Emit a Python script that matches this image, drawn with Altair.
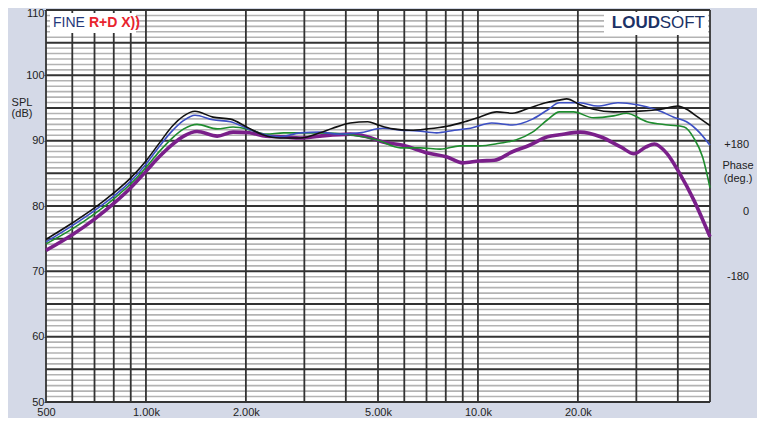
import altair as alt
import pandas as pd

# ---------------- data ----------------
black_f = [500, 600, 700, 800, 900, 1000, 1100, 1200, 1300, 1405, 1592, 1797, 2010, 2250, 2530, 2915, 3340, 3650,
           4125, 4660, 5000, 5550, 6265, 7045, 8070, 9000, 10100, 11400, 12700, 14300, 16000, 17600, 18500,
           20300, 22300, 25600, 30200, 35600, 40000, 42500, 46000, 50000]
black_db = [74.9, 77.4, 79.7, 82.0, 84.3, 86.9, 89.7, 92.2, 93.8, 94.5, 93.6, 93.3, 92.1, 90.9, 90.4, 90.4, 91.2, 91.9,
            92.7, 92.9, 92.4, 91.8, 91.6, 91.8, 92.2, 92.8, 93.6, 94.4, 94.2, 95.0, 95.8, 96.2, 96.4,
            95.5, 94.8, 94.4, 94.5, 94.8, 95.3, 94.8, 93.6, 92.3]

blue_f = [500, 600, 700, 800, 900, 1000, 1100, 1200, 1300, 1405, 1592, 1797, 2010, 2250, 2530, 2915, 3340, 3800,
          4400, 5170, 5850, 6560, 7510, 8500, 9500, 11000, 12700, 14600, 16200, 17600, 20300, 22900, 26400,
          30200, 34700, 38900, 42500, 46600, 50000]
blue_db = [74.5, 77.0, 79.3, 81.5, 83.8, 86.4, 89.2, 91.5, 93.1, 93.9, 93.2, 92.9, 91.9, 91.0, 90.6, 91.2, 91.3, 91.0,
           91.2, 91.9, 91.6, 91.5, 91.2, 91.6, 91.9, 92.7, 92.4, 93.3, 94.7, 95.8, 95.8, 95.3, 95.8,
           95.5, 94.7, 93.6, 92.9, 91.2, 89.3]

green_f = [500, 600, 700, 800, 900, 1000, 1100, 1200, 1300, 1425, 1640, 1830, 2080, 2300, 2600, 2915, 3340, 4125,
           4970, 5850, 6700, 7700, 8830, 10100, 11600, 13000, 14600, 16200, 17600, 19400, 22300, 25600, 28000,
           32300, 37400, 41800, 44700, 47500, 50000]
green_db = [74.2, 76.5, 78.8, 81.1, 83.4, 85.9, 88.4, 90.4, 91.8, 92.5, 91.8, 92.1, 91.6, 91.0, 91.2, 91.2, 91.2, 90.9,
            90.1, 88.9, 88.9, 88.7, 89.2, 89.2, 89.6, 90.1, 91.3, 93.2, 94.4, 94.4, 93.5, 93.8, 94.2,
            92.9, 92.4, 92.1, 90.4, 87.5, 82.8]

purple_f = [500, 600, 700, 800, 900, 1000, 1100, 1200, 1300, 1425, 1640, 1830, 2050, 2300, 2600, 2915, 3340, 4125, 4640,
            5170, 5950, 7050, 8070, 9000, 10100, 11200, 12700, 14300, 16200, 17600, 20300, 23400, 27000, 29500,
            32000, 34000, 37000, 40500, 44700, 48000, 50000]
purple_db = [73.2, 75.6, 78.0, 80.4, 82.8, 85.3, 87.6, 89.4, 90.7, 91.4, 90.7, 91.3, 91.2, 90.7, 90.6, 90.4, 90.7, 91.0, 90.6,
             89.8, 89.3, 88.1, 87.5, 86.6, 86.9, 87.0, 88.3, 89.3, 90.6, 90.9, 91.3, 90.6, 89.0, 88.0,
             89.0, 89.5, 88.1, 85.0, 80.9, 77.4, 75.3]

x_ticks = [500, 1000, 2000, 5000, 10000, 20000]
y_ticks = [50, 60, 70, 80, 90, 100, 110]
v_grid = [500, 600, 700, 800, 900, 1000, 2000, 3000, 4000, 5000, 6000, 7000, 8000, 9000,
          10000, 20000, 30000, 40000, 50000]
major_levels = [50, 55, 60, 65, 70, 75, 80, 85, 90, 95, 100, 105, 110]
minor_levels = [m + k * 5 / 6 for m in major_levels[:-1] for k in range(1, 6)]

FONT = "Liberation Sans"
W, H = 664, 392

xscale = alt.Scale(type="log", domain=[500, 50000], nice=False)
yscale = alt.Scale(domain=[50, 110], nice=False, zero=False)

xaxis = alt.Axis(
    values=x_ticks, title=None, grid=False, domain=False, ticks=False,
    labelPadding=4, labelFontSize=11, labelFont=FONT, labelColor="#222222",
    labelExpr="datum.value < 1000 ? '500' : (datum.value >= 10000 ? format(datum.value/1000, '.1f') + 'k' : format(datum.value/1000, '.2f') + 'k')",
    labelFlush=False)
yaxis = alt.Axis(
    values=y_ticks, title=None, grid=False, domain=False, ticks=True, tickSize=2,
    tickColor="#333333", labelPadding=0, labelFontSize=11, labelFont=FONT,
    labelColor="#222222", labelFlush=False,
    labelOffset={"condition": {"test": "datum.value == 110", "value": 3}, "value": 0})


def X(field):
    return alt.X(field, scale=xscale, axis=xaxis)


def Y(field):
    return alt.Y(field, scale=yscale, axis=yaxis)


minor_df = pd.DataFrame({"y": minor_levels})
major_df = pd.DataFrame({"y": major_levels})
vgrid_df = pd.DataFrame({"x": v_grid})

minor = alt.Chart(minor_df).mark_rule(color="#b3b3b3", strokeWidth=1.6).encode(y=Y("y:Q"))
major = alt.Chart(major_df).mark_rule(color="#333333", strokeWidth=2).encode(y=Y("y:Q"))
vgrid = alt.Chart(vgrid_df).mark_rule(color="#333333", strokeWidth=1.8).encode(x=X("x:Q"))


def series(f, db, color, width):
    df = pd.DataFrame({"f": f, "db": db})
    return alt.Chart(df).mark_line(color=color, strokeWidth=width, interpolate="monotone").encode(
        x=X("f:Q"), y=Y("db:Q"))


purple = series(purple_f, purple_db, "#7a1f8a", 3.6)
green = series(green_f, green_db, "#1e8c2e", 1.6)
blue = series(blue_f, blue_db, "#3c4fc4", 1.6)
black = series(black_f, black_db, "#111111", 1.6)

# logo boxes
box_base = alt.Chart(pd.DataFrame({"a": [0]}))
fine_box = box_base.mark_rect(color="white").encode(
    x=alt.value(4), x2=alt.value(90), y=alt.value(3), y2=alt.value(23))
loud_box = box_base.mark_rect(color="white").encode(
    x=alt.value(558), x2=alt.value(662), y=alt.value(2), y2=alt.value(25))


def txt(s, x, y, size=11, color="#222222", weight="normal", align="center"):
    return box_base.mark_text(text=s, font=FONT, fontSize=size, color=color, fontWeight=weight,
                              align=align, baseline="middle").encode(x=alt.value(x), y=alt.value(y))


texts = [
    txt("FINE", 7, 13, 14, "#24387a", "normal", "left"),
    txt("R+D X))", 43, 13, 14, "#e8232d", "bold", "left"),
    txt("LOUD", 614, 13, 17, "#1c3266", "bold", "right"),
    txt("SOFT", 659, 13, 17, "#1c3266", "normal", "right"),
    txt("SPL", -24, 93),
    txt("(dB)", -24, 104),
    txt("+180", 703, 135, align="right"),
    txt("Phase", 692, 156),
    txt("(deg.)", 692, 169),
    txt("0", 703, 202, align="right"),
    txt("-180", 703, 267, align="right"),
]

chart = alt.layer(minor, major, vgrid, fine_box, loud_box, purple, green, blue, black, *texts).properties(
    width=W, height=H,
    autosize=alt.AutoSizeParams(type="none"),
    padding={"left": 38, "top": 2, "right": 47, "bottom": 16},
    background="#d4d9e7",
).configure_view(fill="white", stroke=None)

chart.save("out.html", embed_options={"renderer": "svg", "actions": False})
